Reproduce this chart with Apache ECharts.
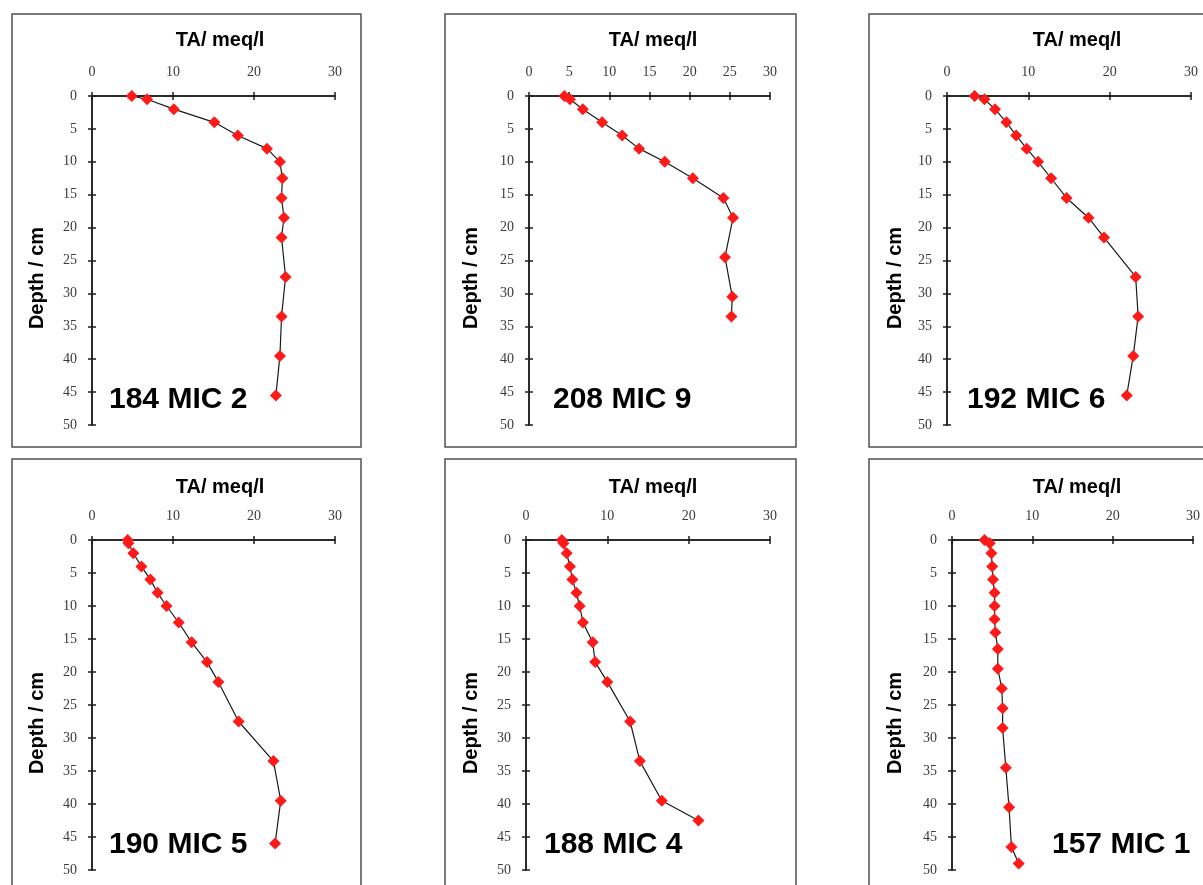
<!DOCTYPE html>
<html>
<head>
<meta charset="utf-8">
<script src="https://cdn.jsdelivr.net/npm/echarts@6/dist/echarts.min.js"></script>
<style>
  html, body { margin: 0; padding: 0; background: #ffffff; }
  #chart { width: 1203px; height: 885px; }
</style>
</head>
<body>
<div id="chart"></div>
<script>
// Total alkalinity (TA, meq/l) versus sediment depth (cm) for six cores
const coreNames = ['184 MIC 2', '208 MIC 9', '192 MIC 6', '190 MIC 5', '188 MIC 4', '157 MIC 1'];

const depth184 = [0, 0.5, 2, 4, 6, 8, 10, 12.5, 15.5, 18.5, 21.5, 27.5, 33.5, 39.5, 45.5];
const ta184    = [4.9, 6.8, 10.1, 15.1, 18.0, 21.6, 23.2, 23.5, 23.4, 23.7, 23.4, 23.9, 23.4, 23.2, 22.7];

const depth208 = [0, 0.5, 2, 4, 6, 8, 10, 12.5, 15.5, 18.5, 24.5, 30.5, 33.5];
const ta208    = [4.4, 5.1, 6.7, 9.1, 11.6, 13.7, 16.9, 20.4, 24.2, 25.4, 24.4, 25.3, 25.2];

const depth192 = [0, 0.5, 2, 4, 6, 8, 10, 12.5, 15.5, 18.5, 21.5, 27.5, 33.5, 39.5, 45.5];
const ta192    = [3.4, 4.6, 5.9, 7.3, 8.5, 9.8, 11.2, 12.8, 14.7, 17.4, 19.3, 23.2, 23.5, 22.9, 22.1];

const depth190 = [0, 0.5, 2, 4, 6, 8, 10, 12.5, 15.5, 18.5, 21.5, 27.5, 33.5, 39.5, 46];
const ta190    = [4.4, 4.5, 5.1, 6.1, 7.2, 8.1, 9.2, 10.7, 12.3, 14.2, 15.6, 18.1, 22.4, 23.3, 22.6];

const depth188 = [0, 0.5, 2, 4, 6, 8, 10, 12.5, 15.5, 18.5, 21.5, 27.5, 33.5, 39.5, 42.5];
const ta188    = [4.4, 4.6, 5.0, 5.4, 5.7, 6.2, 6.6, 7.0, 8.2, 8.5, 10.0, 12.8, 14.0, 16.7, 21.2];

const depth157 = [0, 0.5, 2, 4, 6, 8, 10, 12, 14, 16.5, 19.5, 22.5, 25.5, 28.5, 34.5, 40.5, 46.5, 49];
const ta157    = [4.05, 4.7, 4.9, 5.0, 5.1, 5.3, 5.3, 5.3, 5.4, 5.7, 5.7, 6.2, 6.3, 6.3, 6.7, 7.1, 7.4, 8.3];

const depthSeries = [depth184, depth208, depth192, depth190, depth188, depth157];
const taSeries    = [ta184, ta208, ta192, ta190, ta188, ta157];
const taStep      = [10, 5, 10, 10, 10, 10];   // x tick interval per panel
const taMax = 30, depthMax = 50, depthStep = 5;

// Panel geometry (pixels): frame box, plot area, text anchors
const layout = [
  { frame: [12, 14, 349, 433],  plot: [92, 96, 243, 329],  title: [220, 40],  yName: [37, 278],  tag: [109, 400] },
  { frame: [445, 14, 351, 433], plot: [529, 96, 241, 329], title: [653, 40],  yName: [471, 278], tag: [553, 400] },
  { frame: [869, 14, 360, 433], plot: [947, 96, 244, 329], title: [1077, 40], yName: [895, 278], tag: [967, 400] },
  { frame: [12, 459, 349, 460], plot: [92, 540, 243, 330], title: [220, 487], yName: [37, 723],  tag: [109, 845] },
  { frame: [445, 459, 351, 460], plot: [526, 540, 244, 330], title: [653, 487], yName: [471, 723], tag: [544, 845] },
  { frame: [869, 459, 360, 460], plot: [952, 540, 246, 330], title: [1077, 487], yName: [895, 723], tag: [1052, 845] }
];

const SANS = '"Liberation Sans", Arial, sans-serif';
const SERIF = '"Liberation Serif", "Times New Roman", serif';
const AXIS_COLOR = '#1e1e1e';

const grids = [], xAxes = [], yAxes = [], series = [], graphics = [];

layout.forEach((p, i) => {
  const [gl, gt, gw, gh] = p.plot;
  grids.push({ left: gl, top: gt, width: gw, height: gh, containLabel: false });

  const xBase = {
    gridIndex: i, type: 'value', position: 'top', min: 0, max: taMax, interval: taStep[i],
    splitLine: { show: false },
    axisLine: { show: true, onZero: false, lineStyle: { color: AXIS_COLOR, width: 1.5 } }
  };
  // labelled axis with outward ticks, plus a twin for the inward half of each tick
  xAxes.push(Object.assign({}, xBase, {
    axisTick: { show: true, inside: false, length: 4, lineStyle: { color: AXIS_COLOR, width: 1.5 } },
    axisLabel: { show: true, margin: 17, fontFamily: SERIF, fontSize: 14, color: '#3a3a3a' }
  }));
  xAxes.push(Object.assign({}, xBase, {
    axisTick: { show: true, inside: true, length: 4, lineStyle: { color: AXIS_COLOR, width: 1.5 } },
    axisLabel: { show: false }
  }));

  const yBase = {
    gridIndex: i, type: 'value', position: 'left', inverse: true, min: 0, max: depthMax, interval: depthStep,
    splitLine: { show: false },
    axisLine: { show: true, onZero: false, lineStyle: { color: AXIS_COLOR, width: 1.5 } }
  };
  yAxes.push(Object.assign({}, yBase, {
    axisTick: { show: true, inside: false, length: 4, lineStyle: { color: AXIS_COLOR, width: 1.5 } },
    axisLabel: { show: true, margin: 15, fontFamily: SERIF, fontSize: 14, color: '#3a3a3a' }
  }));
  yAxes.push(Object.assign({}, yBase, {
    axisTick: { show: true, inside: true, length: 4, lineStyle: { color: AXIS_COLOR, width: 1.5 } },
    axisLabel: { show: false }
  }));

  series.push({
    type: 'line',
    name: coreNames[i],
    xAxisIndex: 2 * i,
    yAxisIndex: 2 * i,
    data: taSeries[i].map((v, k) => [v, depthSeries[i][k]]),
    symbol: 'diamond',
    symbolSize: [12, 12],
    showAllSymbol: true,
    itemStyle: { color: '#ff1a1a' },
    lineStyle: { color: '#1a1a1a', width: 1.2 },
    z: 3
  });

  const [fx, fy, fw, fh] = p.frame;
  graphics.push({
    type: 'rect', silent: true, z: 0,
    shape: { x: fx, y: fy, width: fw, height: fh },
    style: { fill: null, stroke: '#505050', lineWidth: 1.5 }
  });
  graphics.push({
    type: 'text', silent: true, x: p.title[0], y: p.title[1],
    style: { text: 'TA/ meq/l', font: 'bold 20px ' + SANS, fill: '#000', align: 'center', verticalAlign: 'middle' }
  });
  graphics.push({
    type: 'text', silent: true, x: p.yName[0], y: p.yName[1], rotation: Math.PI / 2,
    style: { text: 'Depth / cm', font: 'bold 20px ' + SANS, fill: '#000', align: 'center', verticalAlign: 'middle' }
  });
  graphics.push({
    type: 'text', silent: true, x: p.tag[0], y: p.tag[1],
    style: { text: coreNames[i], font: 'bold 30px ' + SANS, fill: '#000', align: 'left', verticalAlign: 'middle' }
  });
});

const chart = echarts.init(document.getElementById('chart'), null, { renderer: 'canvas' });
chart.setOption({
  animation: false,
  backgroundColor: '#ffffff',
  grid: grids,
  xAxis: xAxes,
  yAxis: yAxes,
  series: series,
  graphic: graphics
});
</script>
</body>
</html>
